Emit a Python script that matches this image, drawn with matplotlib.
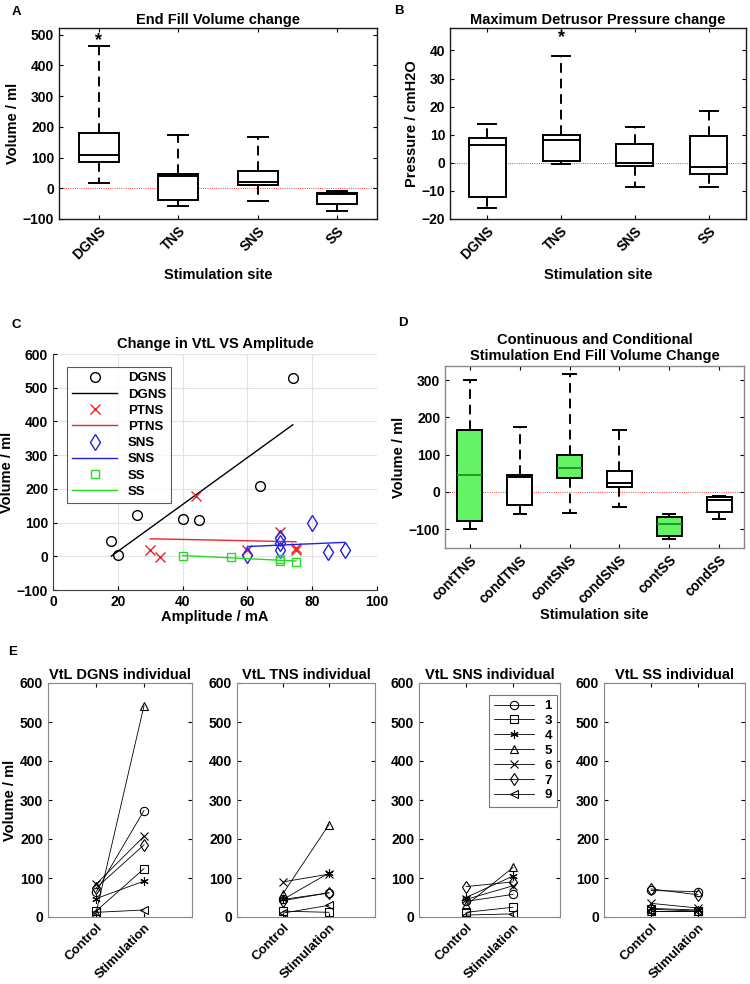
import numpy as np
import matplotlib
matplotlib.use("Agg")
import matplotlib.pyplot as plt

plt.rcParams.update({
    "font.family": ["Liberation Sans", "DejaVu Sans"],
    "font.weight": "bold",
    "axes.labelweight": "bold",
    "axes.titleweight": "bold",
    "font.size": 10,
    "xtick.direction": "in",
    "ytick.direction": "in",
    "xtick.major.size": 3,
    "ytick.major.size": 3,
    "xtick.labelsize": 10,
    "ytick.labelsize": 10,
})

# ---- A: end fill volume change
sites = ["DGNS", "TNS", "SNS", "SS"]
a_lo = [17, -59, -43, -73]
a_q1 = [85, -37, 12, -52]
a_med = [107, 39, 22, -20]
a_q3 = [180, 47, 56, -14]
a_hi = [462, 174, 168, -9]
a_star = (1, 481)

# ---- B: max detrusor pressure change
b_lo = [-16.1, -0.4, -8.5, -8.5]
b_q1 = [-12.3, 0.6, -1.0, -3.9]
b_med = [6.4, 8.0, 0.0, -1.6]
b_q3 = [8.8, 9.8, 6.7, 9.4]
b_hi = [13.9, 37.9, 12.6, 18.3]
b_star = (2, 44.7)

# ---- C: change in VtL vs amplitude
dgns_amp = [18, 20, 26, 40, 45, 64, 74]
dgns_vol = [44, 4, 121, 110, 107, 208, 530]
ptns_amp = [30, 33, 44, 60, 70, 75, 75]
ptns_vol = [19, -2, 178, 19, 72, 19, 24]
sns_amp = [60, 70, 70, 70, 80, 85, 90]
sns_vol = [4, 54, 40, 19, 98, 12, 19]
ss_amp = [40, 55, 70, 70, 75]
ss_vol = [1, -3, -9, -13, -16]

# ---- D: continuous vs conditional
d_cats = ["contTNS", "condTNS", "contSNS", "condSNS", "contSS", "condSS"]
d_lo = [-100, -60, -58, -42, -128, -73]
d_q1 = [-79, -36, 36, 12, -118, -53]
d_med = [44, 39, 64, 23, -87, -21]
d_q3 = [165, 46, 99, 55, -69, -15]
d_hi = [300, 173, 316, 166, -60, -10]
d_cont = [True, False, True, False, True, False]

# ---- E: individual VtL, control -> stimulation
subjects = ["1", "3", "4", "5", "6", "7", "9"]
subj_markers = ["o", "s", (6, 2, 0), "^", "x", "d", "<"]
e_titles = ["VtL DGNS individual", "VtL TNS individual",
            "VtL SNS individual", "VtL SS individual"]
dgns_ctrl = [64, 15, 47, 10, 84, 74, 12]
dgns_stim = [273, 124, 92, 542, 207, 185, 18]
tns_ctrl = [45, 15, 45, 60, 90, 42, 10]
tns_stim = [62, 12, 113, 237, 110, 62, 30]
sns_ctrl = [40, 12, 50, 30, 45, 78, 5]
sns_stim = [58, 25, 105, 127, 80, 90, 8]
ss_ctrl = [68, 20, 22, 15, 35, 72, 15]
ss_stim = [65, 15, 18, 15, 23, 57, 15]
e_ctrl = [dgns_ctrl, tns_ctrl, sns_ctrl, ss_ctrl]
e_stim = [dgns_stim, tns_stim, sns_stim, ss_stim]

W, H = 750, 984
fig = plt.figure(figsize=(W / 100, H / 100), dpi=100)


def px_axes(x0, y0, x1, y1):
    return fig.add_axes([x0 / W, 1 - y1 / H, (x1 - x0) / W, (y1 - y0) / H])


def box_stats(lo, q1, med, q3, hi):
    return [dict(whislo=a, q1=b, med=c, q3=d, whishi=e, fliers=[])
            for a, b, c, d, e in zip(lo, q1, med, q3, hi)]


DASH = (0, (5, 3))


def draw_boxes(ax, stats, colors=None, edge="#1a1a1a"):
    bp = ax.bxp(stats, positions=range(1, len(stats) + 1), widths=0.5, capwidths=0.25,
                showfliers=False, patch_artist=True,
                boxprops=dict(edgecolor="k", lw=1.4, facecolor="white"),
                whiskerprops=dict(color="k", lw=1.4, linestyle=DASH),
                capprops=dict(color="k", lw=1.4),
                medianprops=dict(color="k", lw=1.4))
    if colors:
        for patch, med, c in zip(bp["boxes"], bp["medians"], colors):
            if c:
                patch.set_facecolor("#66f266")
                med.set_color("#229a22")
    ax.axhline(0, color="red", lw=0.6, ls=":", zorder=0.5)
    ax.tick_params(top=True, right=True, length=3)
    for s in ax.spines.values():
        s.set_color(edge)
        s.set_linewidth(1.0)
    return bp


# A
axA = px_axes(59, 28, 377, 219)
draw_boxes(axA, box_stats(a_lo, a_q1, a_med, a_q3, a_hi))
axA.set_xlim(0.5, 4.5)
axA.set_ylim(-100, 522)
axA.set_yticks(range(-100, 501, 100))
axA.set_xticks(range(1, 5))
axA.set_xticklabels(sites, rotation=45, ha="right", rotation_mode="anchor")
axA.text(*a_star, "*", ha="center", va="center", fontsize=13)
axA.set_title("End Fill Volume change", fontsize=10.5, pad=3)
axA.set_ylabel("Volume / ml", fontsize=10.5, labelpad=2)
axA.set_xlabel("Stimulation site", fontsize=10.5)

# B
axB = px_axes(450, 28, 746, 219)
draw_boxes(axB, box_stats(b_lo, b_q1, b_med, b_q3, b_hi))
axB.set_xlim(0.5, 4.5)
axB.set_ylim(-20, 48)
axB.set_yticks(range(-20, 41, 10))
axB.set_xticks(range(1, 5))
axB.set_xticklabels(sites, rotation=45, ha="right", rotation_mode="anchor")
axB.text(*b_star, "*", ha="center", va="center", fontsize=13)
axB.set_title("Maximum Detrusor Pressure change", fontsize=10.5, pad=3)
axB.set_ylabel("Pressure / cmH2O", fontsize=10.5, labelpad=2)
axB.set_xlabel("Stimulation site", fontsize=10.5)

# C
axC = px_axes(53, 354, 377, 590)
groups = [
    ("DGNS", dgns_amp, dgns_vol, "k", "o", 7),
    ("PTNS", ptns_amp, ptns_vol, "#e8262a", "x", 7),
    ("SNS", sns_amp, sns_vol, "#2222dd", "d", 8),
    ("SS", ss_amp, ss_vol, "#22dd22", "s", 6),
]
for name, xs, ys, col, mk, ms in groups:
    axC.plot(xs, ys, ls="none", marker=mk, mfc="none", mec=col, ms=ms, mew=1.0, label=name)
    k, b = np.polyfit(xs, ys, 1)
    xl = np.array([min(xs), max(xs)])
    axC.plot(xl, k * xl + b, color=col, lw=1.0, label=name)
axC.set_xlim(0, 100)
axC.set_ylim(-100, 600)
axC.set_yticks(range(-100, 601, 100))
axC.set_xticks(range(0, 101, 20))
axC.grid(color="#e3e3e3", lw=0.8)
axC.set_axisbelow(True)
axC.spines[["top", "right"]].set_visible(False)
for s in ("left", "bottom"):
    axC.spines[s].set_color("#404040")
axC.tick_params(length=3)
axC.set_title("Change in VtL VS Amplitude", fontsize=10.5, pad=4)
axC.set_ylabel("Volume / ml", fontsize=10.5)
axC.yaxis.set_label_coords(-0.12, 0.5)
axC.set_xlabel("Amplitude / mA", fontsize=10.5, labelpad=1)
leg = axC.legend(loc="upper left", bbox_to_anchor=(0.043, 0.945), borderaxespad=0,
                 fontsize=9.5, frameon=True, fancybox=False, edgecolor="#333333",
                 handlelength=3.4, labelspacing=0.3, borderpad=0.4)
leg.get_frame().set_linewidth(0.8)

# D
axD = px_axes(445, 366, 744, 548)
draw_boxes(axD, box_stats(d_lo, d_q1, d_med, d_q3, d_hi), colors=d_cont, edge="#888888")
axD.set_xlim(0.5, 6.5)
axD.set_ylim(-151, 338)
axD.set_yticks(range(-100, 301, 100))
axD.set_xticks(range(1, 7))
axD.set_xticklabels(d_cats, rotation=45, ha="right", rotation_mode="anchor")
axD.set_title("Continuous and Conditional\nStimulation End Fill Volume Change",
              fontsize=10.5, pad=4, linespacing=1.25)
axD.set_ylabel("Volume / ml", fontsize=10.5, labelpad=2)
axD.set_xlabel("Stimulation site", fontsize=10.5, labelpad=1)

# E
e_boxes = [(48, 192), (237, 375), (419, 560), (604, 745)]
for i, (x0, x1) in enumerate(e_boxes):
    ax = px_axes(x0, 683, x1, 917)
    for j, mk in enumerate(subj_markers):
        ax.plot([1, 2], [e_ctrl[i][j], e_stim[i][j]], color="k", lw=0.6,
                marker=mk, mfc="none", mec="k", ms=6, mew=0.8, label=subjects[j])
    ax.set_xlim(0, 3)
    ax.set_ylim(0, 600)
    ax.set_yticks(range(0, 601, 100))
    ax.set_xticks([1, 2])
    ax.set_xticklabels(["Control", "Stimulation"], rotation=45, ha="right",
                       rotation_mode="anchor", fontsize=9.5)
    ax.tick_params(top=True, right=True, length=3)
    for s in ax.spines.values():
        s.set_color("#888888")
    ax.set_title(e_titles[i], fontsize=10.5, pad=3)
    if i == 0:
        ax.set_ylabel("Volume / ml", fontsize=10.5, labelpad=2)
    if i == 2:
        lg = ax.legend(loc="upper right", bbox_to_anchor=(0.98, 0.95), borderaxespad=0,
                       fontsize=9.5, fancybox=False, edgecolor="#555555",
                       handlelength=3.0, labelspacing=0.2, borderpad=0.4)
        lg.get_frame().set_linewidth(0.8)

for lab, x, y in [("A", 12, 12), ("B", 394, 11), ("C", 12, 325), ("D", 398, 323),
                  ("E", 8, 652)]:
    fig.text(x / W, 1 - y / H, lab, ha="left", va="center", fontsize=9.5, fontweight="bold")

fig.savefig("out.png", dpi=100)
